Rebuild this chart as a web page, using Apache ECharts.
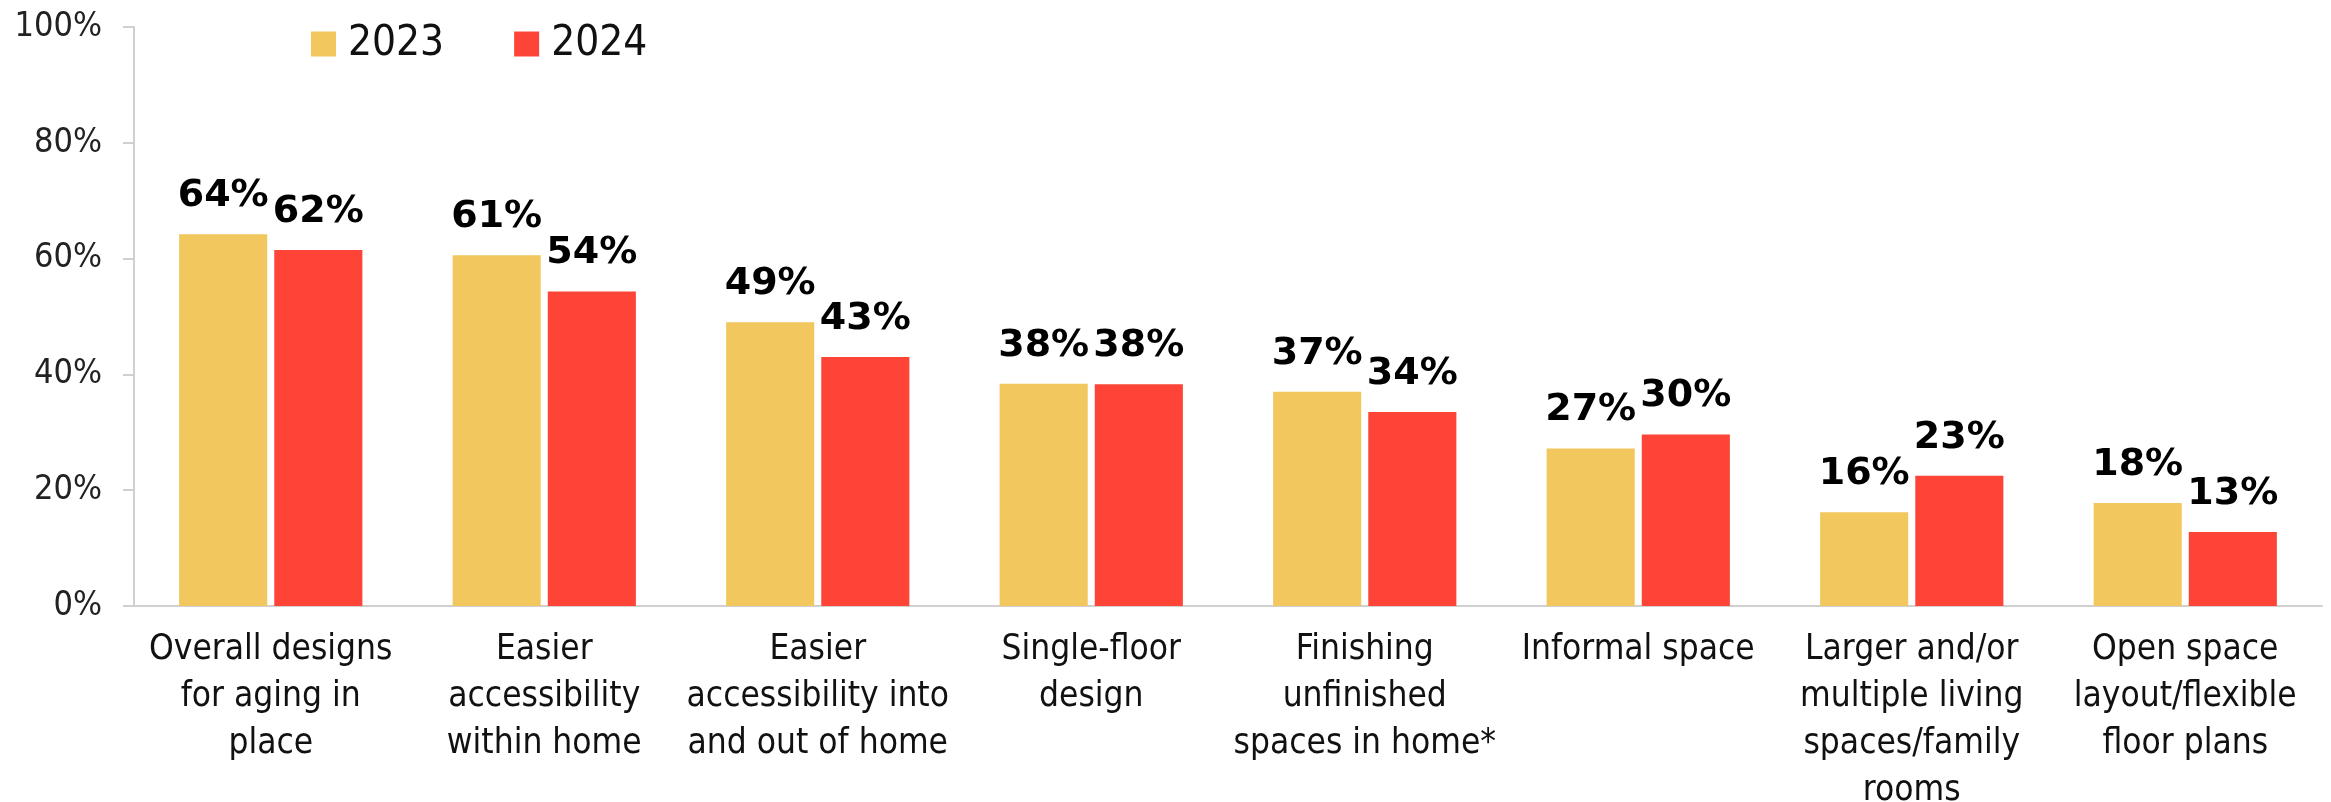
<!DOCTYPE html>
<html>
<head>
<meta charset="utf-8">
<script src="https://cdn.jsdelivr.net/npm/echarts@6/dist/echarts.min.js"></script>
<style>
html,body{margin:0;padding:0;background:#fff;}
#chart{width:2331px;height:802px;}
</style>
</head>
<body>
<div id="chart"></div>
<script>
const categories = [
  "Overall designs\nfor aging in\nplace",
  "Easier\naccessibility\nwithin home",
  "Easier\naccessibility into\nand out of home",
  "Single-floor\ndesign",
  "Finishing\nunfinished\nspaces in home*",
  "Informal space",
  "Larger and/or\nmultiple living\nspaces/family\nrooms",
  "Open space\nlayout/flexible\nfloor plans"
];
const seriesNames = ["2023", "2024"];
const values2023 = [64.2, 60.6, 49.0, 38.4, 37.0, 27.2, 16.2, 17.8];
const values2024 = [61.5, 54.3, 43.0, 38.3, 33.5, 29.6, 22.5, 12.8];
const yTicks = { min: 0, max: 100, interval: 20 };

const FONT = "'DejaVu Sans Condensed', 'DejaVu Sans', sans-serif";
const colors = ["#F1C75E", "#FD4436"];

const chart = echarts.init(document.getElementById('chart'), null, { renderer: 'canvas' });

function barSeries(name, data, color) {
  return {
    name: name,
    type: 'bar',
    data: data,
    barGap: '8%',
    barCategoryGap: '33%',
    itemStyle: { color: color },
    label: {
      show: true,
      position: 'top',
      distance: 19,
      formatter: p => Math.round(p.value) + '%',
      fontFamily: "'DejaVu Sans', sans-serif",
      fontWeight: 'bold',
      fontSize: 38,
      color: '#000'
    }
  };
}

chart.setOption({
  animation: false,
  backgroundColor: '#fff',
  grid: { left: 134, right: 9, top: 27, bottom: 196, containLabel: false, outerBoundsMode: 'none' },
  legend: {
    data: seriesNames,
    left: 311,
    top: 23,
    padding: 0,
    icon: 'rect',
    itemWidth: 25,
    itemHeight: 25,
    itemGap: 70,
    textStyle: { fontFamily: FONT, fontSize: 42, color: '#111', padding: [0, 0, 0, 7] }
  },
  xAxis: {
    type: 'category',
    data: categories,
    axisLine: { show: true, lineStyle: { color: '#d0d0d0', width: 2 } },
    axisTick: { show: false },
    axisLabel: {
      interval: 0,
      margin: 20,
      fontFamily: FONT,
      fontSize: 35,
      lineHeight: 47,
      color: '#111',
      align: 'center'
    }
  },
  yAxis: {
    type: 'value',
    min: yTicks.min,
    max: yTicks.max,
    interval: yTicks.interval,
    axisLine: { show: true, lineStyle: { color: '#d0d0d0', width: 2 } },
    axisTick: { show: true, length: 11, lineStyle: { color: '#d0d0d0', width: 2 } },
    splitLine: { show: false },
    axisLabel: {
      formatter: '{value}%',
      margin: 32,
      fontFamily: FONT,
      fontSize: 34,
      color: '#222'
    }
  },
  series: [
    barSeries(seriesNames[0], values2023, colors[0]),
    barSeries(seriesNames[1], values2024, colors[1])
  ]
});
</script>
</body>
</html>
